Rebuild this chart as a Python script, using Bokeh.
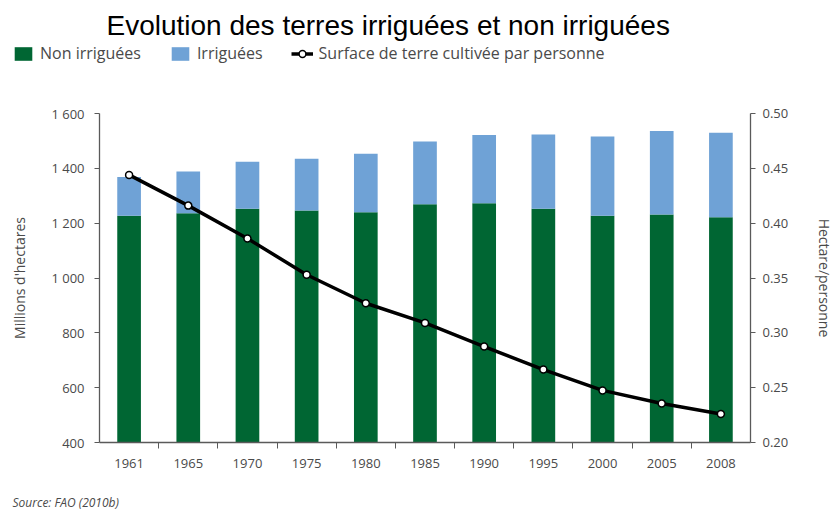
from bokeh.plotting import figure
from bokeh.layouts import column
from bokeh.models import (Range1d, LinearAxis, FixedTicker, NumeralTickFormatter,
                          Legend, LegendItem, Label)
from bokeh.embed import file_html
from bokeh.resources import INLINE

years = ["1961", "1965", "1970", "1975", "1980", "1985", "1990", "1995", "2000", "2005", "2008"]
non_irrigated = [1227, 1236, 1253, 1246, 1240, 1269, 1273, 1253, 1227, 1232, 1222]
irrigated = [141, 152, 171, 189, 213, 229, 249, 270, 289, 304, 308]
ha_per_person = [0.444, 0.416, 0.386, 0.353, 0.327, 0.309, 0.2875, 0.2665, 0.2475, 0.2356, 0.226]

left_ticks = [400, 600, 800, 1000, 1200, 1400, 1600]
left_labels = ["400", "600", "800", "1 000", "1 200", "1 400", "1 600"]
right_ticks = [0.20, 0.25, 0.30, 0.35, 0.40, 0.45, 0.50]

GREEN = "#006633"
BLUE = "#6fa2d6"
AXIS = "#5a5a5a"
TEXT = "#4a4a4a"
FONT = "Open Sans"
W = 837

n = len(years)
centres = [i + 0.5 for i in range(n)]   # category slot centres
bounds = list(range(1, n))              # category slot boundaries
src = dict(x=centres, year=years, non=non_irrigated, irr=irrigated, hpp=ha_per_person)

# ---------- header: title + legend ----------
HH = 70
head = figure(width=W, height=HH, output_backend="svg", toolbar_location=None,
              x_range=Range1d(0, 1), y_range=Range1d(0, 1),
              x_axis_location=None, y_axis_location=None, min_border=0)
head.frame_align = False
head.outline_line_color = None
head.grid.visible = False
hbars = head.vbar_stack(["non", "irr"], x="x", width=0.4, color=[GREEN, BLUE],
                        line_color=None, source=src, visible=False)
hl = head.line(x="x", y="hpp", source=src, line_color="black", line_width=3.5, visible=False)
hp = head.scatter(x="x", y="hpp", source=src, size=7, fill_color="white",
                  line_color="black", line_width=1.5, visible=False)

legend = Legend(items=[
    LegendItem(label="Non irriguées", renderers=[hbars[0]]),
    LegendItem(label="Irriguées", renderers=[hbars[1]]),
    LegendItem(label="Surface de terre cultivée par personne", renderers=[hl, hp]),
], orientation="horizontal", location=(12, HH - 64))
legend.padding = 0
legend.margin = 0
legend.border_line_color = None
legend.background_fill_alpha = 0
legend.glyph_width = 22
legend.glyph_height = 17
legend.label_standoff = 6
legend.spacing = 28
legend.label_text_font = FONT
legend.label_text_font_size = "16px"
legend.label_text_color = TEXT
legend.label_height = 17
head.add_layout(legend, "center")

head.add_layout(Label(x=106, y=HH - 25, x_units="screen", y_units="screen",
                      text="Evolution des terres irriguées et non irriguées",
                      text_font="Liberation Sans", text_font_size="28px", text_color="black",
                      text_align="left", text_baseline="alphabetic"))

# ---------- main chart ----------
MH = 417
p = figure(width=W, height=MH, output_backend="svg", toolbar_location=None,
           x_range=Range1d(0, n), y_range=Range1d(400, 1600),
           x_axis_location=None, y_axis_location=None,
           min_border_left=99, min_border_right=82, min_border_top=113 - HH,
           min_border_bottom=(HH + MH) - 442)
p.frame_align = False
p.outline_line_color = None
p.grid.visible = False
p.extra_y_ranges = {"right": Range1d(0.20, 0.50)}

bars = p.vbar_stack(["non", "irr"], x="x", width=0.4, color=[GREEN, BLUE],
                    line_color=None, source=src)
p.line(x="x", y="hpp", source=src, y_range_name="right", line_color="black", line_width=3.5)
p.scatter(x="x", y="hpp", source=src, y_range_name="right", size=7,
          fill_color="white", line_color="black", line_width=1.5)

xax = LinearAxis(ticker=FixedTicker(ticks=centres, minor_ticks=bounds),
                 major_label_overrides={c: y for c, y in zip(centres, years)})
xax.major_tick_line_color = None
xax.major_tick_out = 0
xax.major_tick_in = 0
xax.minor_tick_out = 6
xax.minor_tick_in = 0
xax.minor_tick_line_color = AXIS
xax.axis_line_color = AXIS
xax.axis_line_width = 1.3
xax.major_label_standoff = 10
xax.major_label_text_font = FONT
xax.major_label_text_font_size = "13px"
xax.major_label_text_color = TEXT
p.add_layout(xax, "below")

yax = LinearAxis(ticker=FixedTicker(ticks=left_ticks),
                 major_label_overrides={t: l for t, l in zip(left_ticks, left_labels)},
                 axis_label="Millions d'hectares")
yax.axis_line_color = AXIS
yax.axis_line_width = 1.3
yax.major_tick_line_color = AXIS
yax.major_tick_out = 5
yax.major_tick_in = 0
yax.minor_tick_line_color = None
yax.major_label_standoff = 10
yax.major_label_text_font = FONT
yax.major_label_text_font_size = "13px"
yax.major_label_text_color = TEXT
yax.axis_label_text_font = FONT
yax.axis_label_text_font_size = "14px"
yax.axis_label_text_font_style = "normal"
yax.axis_label_text_color = TEXT
yax.axis_label_standoff = 19
p.add_layout(yax, "left")

rax = LinearAxis(y_range_name="right", ticker=FixedTicker(ticks=right_ticks),
                 formatter=NumeralTickFormatter(format="0.00"),
                 axis_label="Hectare/personne")
rax.axis_line_color = AXIS
rax.axis_line_width = 1.3
rax.major_tick_line_color = AXIS
rax.major_tick_out = 5
rax.major_tick_in = 0
rax.minor_tick_line_color = None
rax.major_label_standoff = 7
rax.major_label_text_font = FONT
rax.major_label_text_font_size = "13px"
rax.major_label_text_color = TEXT
rax.axis_label_text_font = FONT
rax.axis_label_text_font_size = "14px"
rax.axis_label_text_font_style = "normal"
rax.axis_label_text_color = TEXT
rax.axis_label_standoff = 24
p.add_layout(rax, "right")

# ---------- footer: source ----------
FH = 519 - HH - MH
foot = figure(width=W, height=FH, output_backend="svg", toolbar_location=None,
              x_range=Range1d(0, 1), y_range=Range1d(0, 1),
              x_axis_location=None, y_axis_location=None, min_border=0)
foot.frame_align = False
foot.outline_line_color = None
foot.grid.visible = False
foot.add_layout(Label(x=12, y=FH - (502 - (HH + MH)), x_units="screen", y_units="screen",
                      text="Source: FAO (2010b)", text_font=FONT, text_font_size="12px",
                      text_font_style="italic", text_color=TEXT, text_baseline="middle"))

layout = column(head, p, foot, spacing=0)
open("out.html", "w").write(file_html(layout, INLINE))
